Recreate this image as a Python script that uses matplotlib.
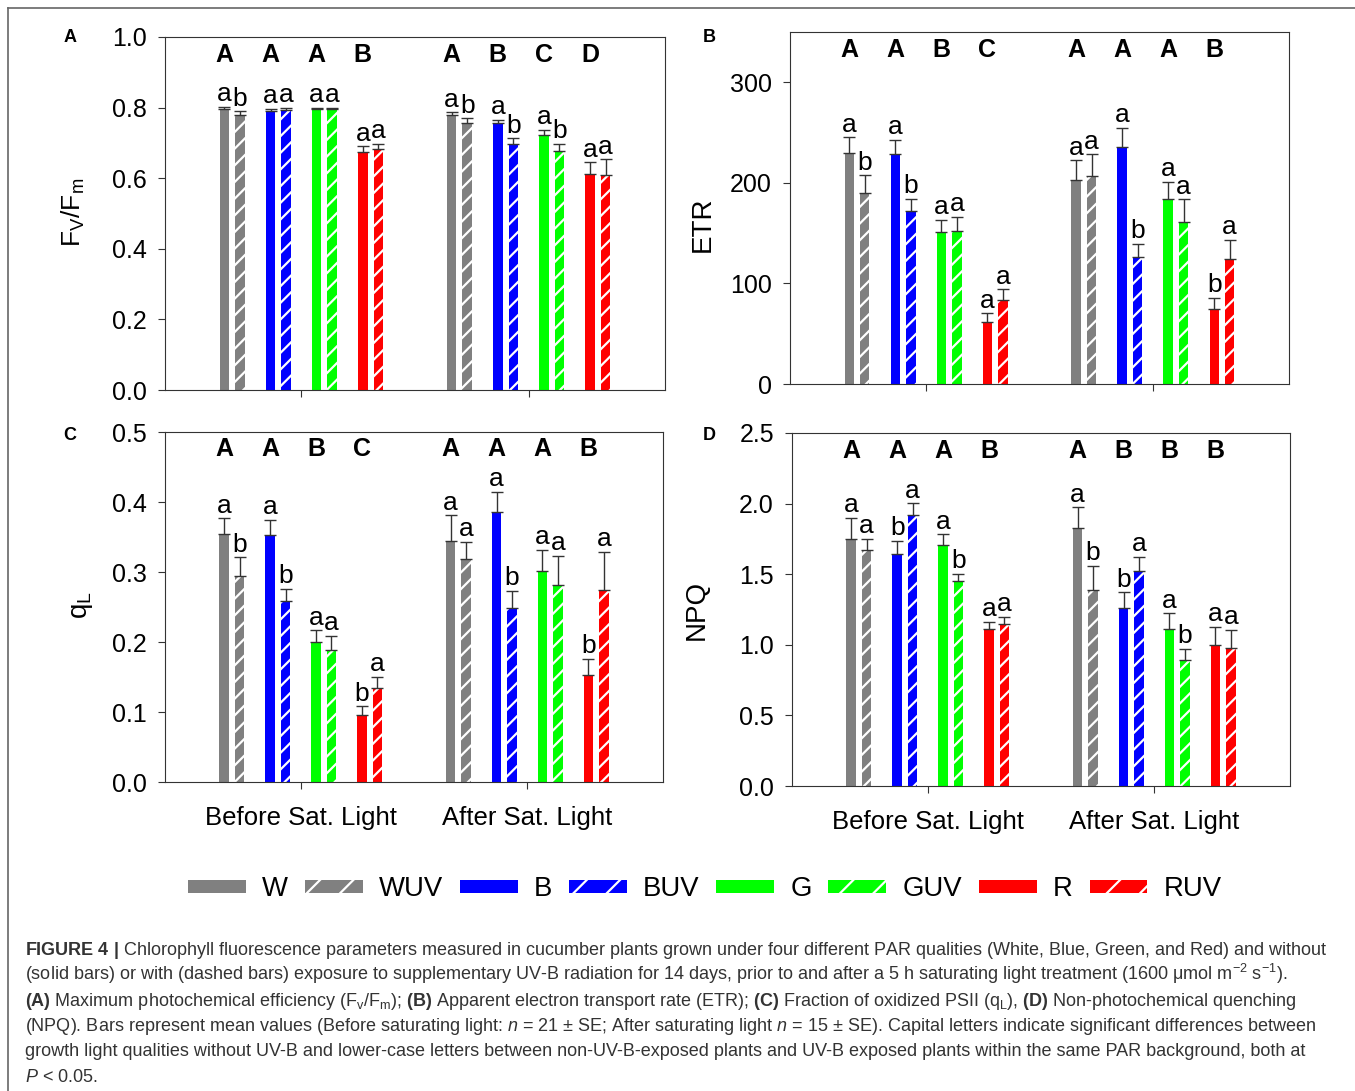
import matplotlib
matplotlib.use("Agg")
import matplotlib.pyplot as plt
from matplotlib.patches import Patch
from matplotlib.lines import Line2D

plt.rcParams["font.family"] = ["Liberation Sans", "DejaVu Sans"]
plt.rcParams["mathtext.fontset"] = "custom"
plt.rcParams["mathtext.rm"] = "Liberation Sans"
plt.rcParams["mathtext.it"] = "Liberation Sans:italic"
plt.rcParams["mathtext.bf"] = "Liberation Sans:bold"
plt.rcParams["hatch.linewidth"] = 1.6

# ---- data (order: W, WUV, B, BUV, G, GUV, R, RUV) ----
groups = ["Before Sat. Light", "After Sat. Light"]
treatments = ["W", "WUV", "B", "BUV", "G", "GUV", "R", "RUV"]
colors = ["#808080", "#0000ff", "#00ff00", "#ff0000"]

fvfm_before = [0.796, 0.778, 0.791, 0.793, 0.796, 0.797, 0.673, 0.683]
fvfm_before_se = [0.006, 0.011, 0.006, 0.007, 0.004, 0.003, 0.017, 0.015]
fvfm_after = [0.778, 0.757, 0.755, 0.697, 0.721, 0.677, 0.613, 0.609]
fvfm_after_se = [0.009, 0.013, 0.010, 0.016, 0.016, 0.021, 0.032, 0.044]

etr_before = [229.5, 190.2, 228.9, 172.4, 150.8, 151.8, 61.2, 83.4]
etr_before_se = [15.9, 17.5, 13.9, 11.5, 12.3, 14.2, 8.9, 10.9]
etr_after = [202.4, 207.1, 235.5, 126.3, 183.6, 160.8, 74.4, 124.7]
etr_after_se = [20.2, 21.5, 19.5, 13.3, 17.2, 22.8, 11.2, 18.9]

ql_before = [0.355, 0.295, 0.353, 0.258, 0.200, 0.188, 0.096, 0.135]
ql_before_se = [0.022, 0.026, 0.022, 0.018, 0.017, 0.021, 0.012, 0.015]
ql_after = [0.344, 0.318, 0.386, 0.249, 0.301, 0.281, 0.153, 0.274]
ql_after_se = [0.037, 0.025, 0.029, 0.024, 0.031, 0.042, 0.023, 0.055]

npq_before = [1.751, 1.669, 1.641, 1.920, 1.706, 1.451, 1.115, 1.148]
npq_before_se = [0.148, 0.082, 0.094, 0.082, 0.076, 0.051, 0.049, 0.049]
npq_after = [1.826, 1.390, 1.258, 1.523, 1.110, 0.889, 0.998, 0.974]
npq_after_se = [0.148, 0.168, 0.115, 0.099, 0.113, 0.081, 0.131, 0.132]

# significance letters (lower-case per bar, capitals per PAR colour)
fvfm_lower = [list("abaaaaaa"), list("abababaa")]
fvfm_caps = [list("AAAB"), list("ABCD")]
etr_lower = [list("ababaaaa"), list("aaabaaba")]
etr_caps = [list("AABC"), list("AAAB")]
ql_lower = [list("ababaaba"), list("aaabaaba")]
ql_caps = [list("AABC"), list("AAAB")]
npq_lower = [list("aabaabaa"), list("abbaabaa")]
npq_caps = [list("AAAB"), list("ABBB")]

panels = [
    dict(tag="A", pos=[165, 37, 665, 390], ylim=(0, 1.0), step=0.2, fmt="{:.1f}",
         label=r"F$_\mathrm{V}$/F$_\mathrm{m}$", lab_xy=(73, 212), lab_fs=19,
         data=[(fvfm_before, fvfm_before_se), (fvfm_after, fvfm_after_se)],
         lower=fvfm_lower, caps=fvfm_caps, xlabels=False, tag_xy=(70, 37)),
    dict(tag="B", pos=[790, 32, 1289, 384], ylim=(0, 350), step=100, fmt="{:.0f}",
         label="ETR", lab_xy=(703, 224), lab_fs=20,
         data=[(etr_before, etr_before_se), (etr_after, etr_after_se)],
         lower=etr_lower, caps=etr_caps, xlabels=False, tag_xy=(709, 37)),
    dict(tag="C", pos=[165, 432, 663, 782], ylim=(0, 0.5), step=0.1, fmt="{:.1f}",
         label=r"q$_\mathrm{L}$", lab_xy=(82, 605), lab_fs=20,
         data=[(ql_before, ql_before_se), (ql_after, ql_after_se)],
         lower=ql_lower, caps=ql_caps, xlabels=True, tag_xy=(70, 435)),
    dict(tag="D", pos=[792, 433, 1290, 786], ylim=(0, 2.5), step=0.5, fmt="{:.1f}",
         label="NPQ", lab_xy=(697, 610), lab_fs=20,
         data=[(npq_before, npq_before_se), (npq_after, npq_after_se)],
         lower=npq_lower, caps=npq_caps, xlabels=True, tag_xy=(709, 435)),
]

W, H = 1355, 1091
fig = plt.figure(figsize=(W / 100, H / 100), dpi=100)

bar_w = 0.042
pair_step = 0.203
sub_off = 0.034
spine_c = "#333333"

for p in panels:
    l, t, r, b = p["pos"]
    ax = fig.add_axes([l / W, 1 - b / H, (r - l) / W, (b - t) / H])
    for gi, (means, ses) in enumerate(p["data"]):
        center = gi + 1
        for ci in range(4):
            for k in range(2):
                idx = 2 * ci + k
                x = center + (ci - 1.5) * pair_step + (2 * k - 1) * sub_off
                if k == 0:
                    ax.bar(x, means[idx], bar_w, color=colors[ci], edgecolor="none", zorder=2)
                else:
                    ax.bar(x, means[idx], bar_w, color=colors[ci], edgecolor="white",
                           hatch="//", linewidth=0, zorder=2)
                ax.errorbar(x, means[idx], yerr=[[0], [ses[idx]]], fmt="none",
                            ecolor="#333333", elinewidth=1.0, capsize=4, capthick=1.0, zorder=3)
                ax.annotate(p["lower"][gi][idx], (x, means[idx] + ses[idx]),
                            xytext=(0, 4), textcoords="offset points",
                            ha="center", va="baseline", fontsize=19, zorder=4)
            xs = center + (ci - 1.5) * pair_step - sub_off
            ax.text(xs, 0.95, p["caps"][gi][ci], transform=ax.get_xaxis_transform(),
                    ha="center", va="center", fontsize=18, fontweight="bold")

    ax.set_xlim(0.4, 2.6)
    ax.set_ylim(*p["ylim"])
    ticks = []
    v = p["ylim"][0]
    while v <= p["ylim"][1] + 1e-9:
        ticks.append(v)
        v += p["step"]
    ax.set_yticks(ticks)
    ax.set_yticklabels([p["fmt"].format(tv) for tv in ticks])
    ax.set_xticks([1, 2])
    if p["xlabels"]:
        ax.set_xticklabels(groups)
    else:
        ax.set_xticklabels([])
    ax.tick_params(direction="out", length=5, width=0.8, color=spine_c,
                   labelsize=18, pad=8)
    ax.tick_params(axis="x", labelsize=18.5, pad=12)
    for s in ax.spines.values():
        s.set_color(spine_c)
        s.set_linewidth(0.8)

    fig.text(p["lab_xy"][0] / W, 1 - p["lab_xy"][1] / H, p["label"], rotation=90,
             ha="center", va="center", fontsize=p["lab_fs"])
    fig.text(p["tag_xy"][0] / W, 1 - p["tag_xy"][1] / H, p["tag"], ha="center",
             va="center", fontsize=13, fontweight="bold")

# legend
handles = []
for ci, c in enumerate(colors):
    handles.append(Patch(facecolor=c, edgecolor="none", label=treatments[2 * ci]))
    handles.append(Patch(facecolor=c, edgecolor="white", hatch="/", linewidth=0,
                         label=treatments[2 * ci + 1]))
fig.legend(handles=handles, loc="center", bbox_to_anchor=(705 / W, 1 - 889 / H), ncol=8,
           frameon=False, fontsize=19.8, handlelength=2.1, handleheight=0.35,
           handletextpad=0.6, columnspacing=0.6)

# caption
cap_lines = [
    r"$\mathbf{FIGURE\ 4\ |}$ Chlorophyll fluorescence parameters measured in cucumber plants grown under four different PAR qualities (White, Blue, Green, and Red) and without",
    r"(solid bars) or with (dashed bars) exposure to supplementary UV-B radiation for 14 days, prior to and after a 5 h saturating light treatment (1600 μmol m$^{-2}$ s$^{-1}$).",
    r"$\mathbf{(A)}$ Maximum photochemical efficiency (F$_\mathrm{v}$/F$_\mathrm{m}$); $\mathbf{(B)}$ Apparent electron transport rate (ETR); $\mathbf{(C)}$ Fraction of oxidized PSII (q$_\mathrm{L}$), $\mathbf{(D)}$ Non-photochemical quenching",
    r"(NPQ). Bars represent mean values (Before saturating light: $n$ = 21 ± SE; After saturating light $n$ = 15 ± SE). Capital letters indicate significant differences between",
    r"growth light qualities without UV-B and lower-case letters between non-UV-B-exposed plants and UV-B exposed plants within the same PAR background, both at",
    r"$P$ < 0.05.",
]
for i, line in enumerate(cap_lines):
    fig.text(25 / W, 1 - (955 + 25.3 * i) / H, line, ha="left", va="baseline",
             fontsize=13.0, color="#333333")

# outer frame
fig.add_artist(Line2D([8 / W, 1], [1 - 8 / H, 1 - 8 / H], color="#666666", lw=1.2))
fig.add_artist(Line2D([8 / W, 8 / W], [1 - 8 / H, 0], color="#666666", lw=1.2))

fig.savefig("out.png", dpi=100)
